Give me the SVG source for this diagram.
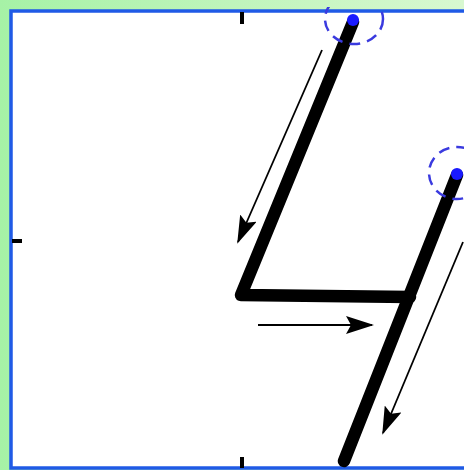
<svg xmlns="http://www.w3.org/2000/svg" width="464" height="470" viewBox="0 0 464 470">
<defs>
<linearGradient id="bg" x1="0" y1="0" x2="1" y2="0">
<stop offset="0" stop-color="#a6f2a6"/>
<stop offset="1" stop-color="#d8f8d0"/>
</linearGradient>
<clipPath id="plot">
<rect x="0" y="7" width="464" height="463"/>
</clipPath>
<marker id="ah" viewBox="0 0 28 18" refX="26" refY="9" markerWidth="28" markerHeight="18" markerUnits="userSpaceOnUse" orient="auto">
<path d="M0,0 L28,9 L0,18 L5,9 Z" fill="#000"/>
</marker>
<style>
.stroke{fill:none;stroke:#000;stroke-width:12.5;stroke-linecap:round;stroke-linejoin:round}
.arrow{fill:none;stroke:#000;stroke-width:1.8;marker-end:url(#ah)}
.halo{fill:none;stroke:#3a3adf;stroke-width:2.5;stroke-dasharray:11 7}
.dot{fill:#1a1aff}
.tick{stroke:#000;stroke-width:4}
</style>
</defs>
<rect x="0" y="0" width="464" height="470" fill="url(#bg)"/>
<rect x="11" y="11" width="470" height="457" fill="#fff" stroke="#1f5ae6" stroke-width="3.5"/>
<g id="ticks">
<line class="tick" x1="242" y1="12" x2="242" y2="24"/>
<line class="tick" x1="12" y1="241" x2="22" y2="241"/>
<line class="tick" x1="242" y1="457" x2="242" y2="468"/>
</g>
<g id="strokes">
<polyline class="stroke" points="353,22 241,295 410,297"/>
<line class="stroke" x1="457" y1="175" x2="344" y2="461"/>
</g>
<g id="connectors">
<line class="arrow" x1="322" y1="50" x2="238" y2="242"/>
<line class="arrow" x1="258" y1="325" x2="372" y2="325"/>
<line class="arrow" x1="463" y1="242" x2="383" y2="433"/>
</g>
<g id="start1" clip-path="url(#plot)">
<ellipse class="halo" cx="354" cy="19" rx="29" ry="25"/>
<circle class="dot" cx="353" cy="20" r="6"/>
</g>
<g id="start2">
<ellipse class="halo" cx="457" cy="173" rx="28" ry="26"/>
<circle class="dot" cx="457" cy="174" r="6"/>
</g>
</svg>
